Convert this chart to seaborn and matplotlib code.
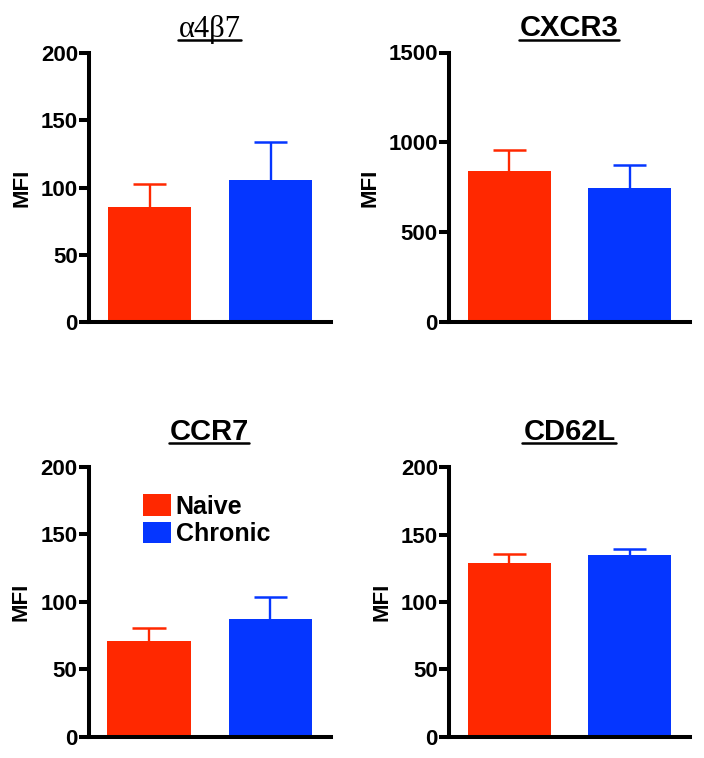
import matplotlib
matplotlib.use("Agg")
import matplotlib.pyplot as plt
import seaborn as sns
import pandas as pd
from matplotlib.lines import Line2D

# ---- data ----
groups = ["Naive", "Chronic"]
titles = ["α4β7", "CXCR3", "CCR7", "CD62L"]
means_a4b7 = [85.5, 105.6]
err_a4b7 = [17.0, 28.5]
means_cxcr3 = [840, 748]
err_cxcr3 = [117, 126]
means_ccr7 = [70.9, 87.2]
err_ccr7 = [9.4, 16.5]
means_cd62l = [129.0, 134.9]
err_cd62l = [6.6, 4.4]
ymax = [200, 1500, 200, 200]
ystep = [50, 500, 50, 50]

colors = {"Naive": "#FF2800", "Chronic": "#0536FF"}

sns.set_theme(style="ticks")
plt.rcParams["font.family"] = ["Liberation Sans", "DejaVu Sans"]
plt.rcParams["text.color"] = "black"
plt.rcParams["axes.labelcolor"] = "black"
plt.rcParams["ytick.color"] = "black"
plt.rcParams["ytick.labelcolor"] = "black"

fig = plt.figure(figsize=(7.04, 7.58), dpi=100)
W, H = 704, 758

# axes boxes in pixels: left, right, top, bottom
boxes = [(89, 331, 53, 322), (449, 690, 52.5, 322.3),
         (88.5, 331, 466.8, 736.7), (449, 690, 467.2, 736.7)]
title_base = [36.5, 36.5, 440, 440]

all_means = [means_a4b7, means_cxcr3, means_ccr7, means_cd62l]
all_errs = [err_a4b7, err_cxcr3, err_ccr7, err_cd62l]

title_texts = []
for i in range(4):
    l, r, t, b = boxes[i]
    ax = fig.add_axes([l / W, 1 - b / H, (r - l) / W, (b - t) / H])
    df = pd.DataFrame({"group": groups, "MFI": all_means[i]})
    sns.barplot(data=df, x="group", y="MFI", hue="group", palette=colors,
                saturation=1, width=0.69, errorbar=None, linewidth=0,
                legend=(i == 2), ax=ax)
    for bar, m, e, g in zip(ax.patches[:2], all_means[i], all_errs[i], groups):
        cx = bar.get_x() + bar.get_width() / 2
        hw = bar.get_width() * 0.2
        ax.vlines(cx, m, m + e, colors=colors[g], linewidth=1.7, zorder=3)
        ax.hlines(m + e, cx - hw, cx + hw, colors=colors[g], linewidth=1.8,
                  zorder=3)
    ax.set_xlim(-0.5, 1.5)
    ax.set_ylim(0, ymax[i])
    ax.set_yticks(range(0, ymax[i] + 1, ystep[i]))
    ax.set_xticks([])
    ax.set_xlabel("")
    ax.set_ylabel("MFI", fontsize=16, fontweight="bold", labelpad=6)
    sns.despine(ax=ax)
    for s in ["left", "bottom"]:
        ax.spines[s].set_linewidth(2.9)
        ax.spines[s].set_color("black")
        ax.spines[s].set_capstyle("projecting")
    ax.tick_params(axis="y", length=7, width=2.9, pad=1, labelsize=16,
                   color="black")
    for lab in ax.get_yticklabels():
        lab.set_fontweight("bold")
    ax.set_facecolor("white")

    cxp = (l + r) / 2 / W
    if i == 0:
        tt = fig.text(cxp, 1 - title_base[i] / H, titles[i], ha="center",
                      va="baseline", fontsize=22,
                      family=["Liberation Serif", "DejaVu Serif"])
    else:
        tt = fig.text(cxp, 1 - title_base[i] / H, titles[i], ha="center",
                      va="baseline", fontsize=21, fontweight="bold")
    title_texts.append((tt, title_base[i]))

    if i == 2:
        leg = ax.legend(loc="upper left", bbox_to_anchor=(0.226, 0.898),
                        frameon=False, fontsize=18, handlelength=1.1,
                        handleheight=0.95, handletextpad=0.2,
                        labelspacing=0.12, borderpad=0, borderaxespad=0)
        for txt in leg.get_texts():
            txt.set_fontweight("bold")

fig.canvas.draw()
renderer = fig.canvas.get_renderer()
for tt, base in title_texts:
    bb = tt.get_window_extent(renderer)
    x0 = (bb.x0 - 1) / W
    x1 = (bb.x1) / W
    y = 1 - (base + 3) / H
    fig.add_artist(Line2D([x0, x1], [y, y], color="black", linewidth=1.8,
                          transform=fig.transFigure))

fig.savefig("out.png", dpi=100, facecolor="white")
